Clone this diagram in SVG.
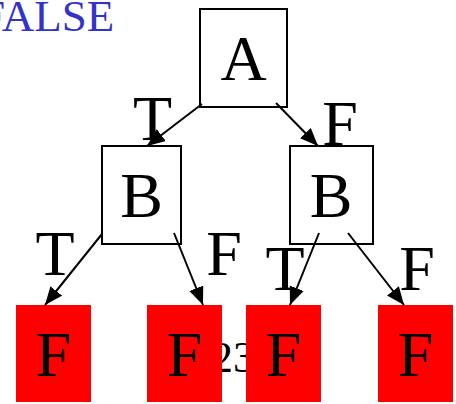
<svg xmlns="http://www.w3.org/2000/svg" width="456" height="404" viewBox="0 0 456 404">
<style>
.box{fill:#fff;stroke:#000;stroke-width:2}
.leaf{fill:#ff0000;stroke:none}
.lbl{font-family:"Liberation Serif","Times New Roman",serif;font-size:64px;fill:#000;text-anchor:middle}
.edge{stroke:#000;stroke-width:2;fill:none;marker-end:url(#ah)}
</style>
<defs>
<marker id="ah" markerUnits="userSpaceOnUse" markerWidth="20" markerHeight="16" refX="18" refY="7.5" orient="auto">
<path d="M0,0 L18,7.5 L0,15 Z" fill="#000"/>
</marker>
</defs>
<text x="-20" y="31" font-family="'Liberation Serif','Times New Roman',serif" font-size="45" fill="#3333cc">FALSE</text>
<text x="211" y="372" font-family="'Liberation Serif','Times New Roman',serif" font-size="44" fill="#000">23</text>
<g id="nodeA"><rect class="box" x="200" y="9" width="87" height="98"/><text class="lbl" x="243.5" y="80">A</text></g>
<g id="nodeB1"><rect class="box" x="102" y="146" width="79" height="98"/><text class="lbl" x="141.5" y="217">B</text></g>
<g id="nodeB2"><rect class="box" x="290" y="146" width="83" height="98"/><text class="lbl" x="331" y="217">B</text></g>
<g id="leaf1"><rect class="leaf" x="16" y="305" width="75" height="97"/><text class="lbl" x="53.5" y="376">F</text></g>
<g id="leaf2"><rect class="leaf" x="147" y="305" width="75" height="97"/><text class="lbl" x="184.5" y="376">F</text></g>
<g id="leaf3"><rect class="leaf" x="246" y="305" width="75" height="97"/><text class="lbl" x="283.5" y="376">F</text></g>
<g id="leaf4"><rect class="leaf" x="378" y="305" width="75" height="97"/><text class="lbl" x="415.5" y="376">F</text></g>
<g id="connectors">
<line class="edge" x1="202" y1="104" x2="147" y2="146"/>
<line class="edge" x1="276" y1="103" x2="318" y2="146"/>
<line class="edge" x1="102" y1="234" x2="45" y2="305"/>
<line class="edge" x1="174" y1="233" x2="203" y2="305"/>
<line class="edge" x1="319" y1="233" x2="290" y2="305"/>
<line class="edge" x1="348" y1="233" x2="404" y2="305"/>
<text class="lbl" x="152.5" y="140">T</text>
<text class="lbl" x="340" y="145">F</text>
<text class="lbl" x="55" y="275">T</text>
<text class="lbl" x="224" y="275">F</text>
<text class="lbl" x="285" y="290">T</text>
<text class="lbl" x="417" y="290">F</text>
</g>
</svg>
